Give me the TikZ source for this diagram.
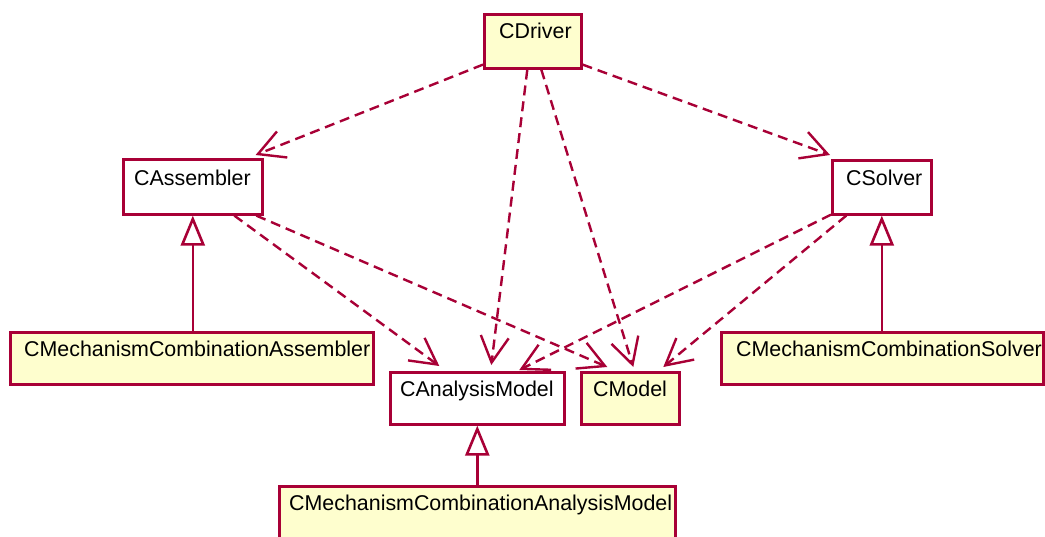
\documentclass[tikz,border=0pt]{standalone}
\usepackage{fontspec}
\setmainfont{Liberation Sans}
\usetikzlibrary{arrows.meta}
\definecolor{umlborder}{HTML}{A80036}
\definecolor{umlfill}{HTML}{FEFECE}

\begin{document}
\begin{tikzpicture}[x=1pt,y=-1pt,
  cls/.style={draw=umlborder, line width=2.6pt, rectangle, inner sep=0pt, anchor=north west},
  concrete/.style={cls, fill=umlfill},
  plaincls/.style={cls, fill=white},
  clsname/.style={anchor=base west, inner sep=0pt, font=\fontsize{21.4}{25}\selectfont},
  dep/.style={draw=umlborder, line width=2.4pt, dash pattern=on 10pt off 6pt,
    -{Straight Barb[length=26pt,width=28pt]}},
  inherit/.style={draw=umlborder, line width=2.6pt,
    -{Triangle[length=30pt,width=24pt,fill=white]}}]

\useasboundingbox (0,0) rectangle (1045,536);
\fill[white] (0,0) rectangle (1045,536);

% class boxes
\node[concrete, minimum width=97pt,  minimum height=54pt] (drv)  at (483,13)  {};
\node[plaincls, minimum width=139pt, minimum height=55pt] (asm)  at (122,158) {};
\node[plaincls, minimum width=99pt,  minimum height=54pt] (slv)  at (831,159) {};
\node[concrete, minimum width=363pt, minimum height=52pt] (mca)  at (9,331)   {};
\node[plaincls, minimum width=174pt, minimum height=52pt] (cam)  at (389,371) {};
\node[concrete, minimum width=98pt,  minimum height=52pt] (mdl)  at (580,371) {};
\node[concrete, minimum width=322pt, minimum height=52pt] (mcs)  at (720,331) {};
\node[concrete, minimum width=396pt, minimum height=54pt] (mcam) at (278,485) {};

% class names
\node[clsname] (drvT)  at ([xshift=16pt,yshift=-25pt]drv.north west)  {CDriver};
\node[clsname] (asmT)  at ([xshift=12pt,yshift=-27pt]asm.north west)  {CAssembler};
\node[clsname] (slvT)  at ([xshift=15pt,yshift=-26pt]slv.north west)  {CSolver};
\node[clsname] (mcaT)  at ([xshift=15pt,yshift=-25pt]mca.north west)  {CMechanismCombinationAssembler};
\node[clsname] (camT)  at ([xshift=11pt,yshift=-25pt]cam.north west)  {CAnalysisModel};
\node[clsname] (mdlT)  at ([xshift=13pt,yshift=-25pt]mdl.north west)  {CModel};
\node[clsname] (mcsT)  at ([xshift=16pt,yshift=-25pt]mcs.north west)  {CMechanismCombinationSolver};
\node[clsname] (mcamT) at ([xshift=11pt,yshift=-25pt]mcam.north west) {CMechanismCombinationAnalysisModel};

% dependencies
\draw[dep] ([yshift=5pt]drv.south west) -- ([xshift=-8pt,yshift=3pt]asm.north east);
\draw[dep] ([yshift=5pt]drv.south east) -- ([xshift=-1pt,yshift=4pt]slv.north west);
\draw[dep] ([xshift=-5.5pt]drv.south) -- ([xshift=14pt,yshift=6pt]cam.north);
\draw[dep] ([xshift=8.5pt]drv.south) -- ([xshift=3pt,yshift=4pt]mdl.north);
\draw[dep] ([xshift=41.5pt]asm.south) -- ([xshift=-38pt,yshift=5pt]cam.north);
\draw[dep] ([xshift=63.5pt]asm.south) -- ([xshift=-23pt,yshift=4pt]mdl.north);
\draw[dep] ([yshift=1pt]slv.south west) -- ([xshift=42pt,yshift=1pt]cam.north);
\draw[dep] ([xshift=-35.5pt]slv.south) -- ([xshift=33pt,yshift=4pt]mdl.north);

% generalisations
\draw[inherit] (mca.north -| asm.south) -- (asm.south);
\draw[inherit] (mcs.north -| slv.south) -- (slv.south);
\draw[inherit] (mcam.north -| cam.south) -- (cam.south);
\end{tikzpicture}
\end{document}
